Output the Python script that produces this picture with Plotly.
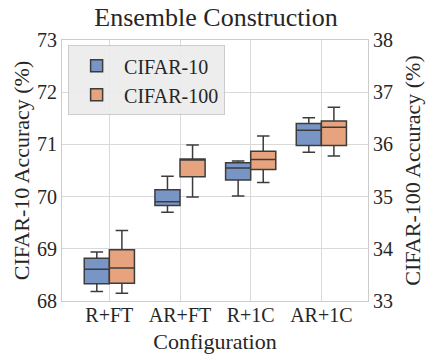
import plotly.graph_objects as go

# configurations on the x axis
configs = ["R+FT", "AR+FT", "R+1C", "AR+1C"]

# CIFAR-10 box statistics (left axis)
c10_low = [68.18, 69.70, 70.01, 70.85]
c10_q1 = [68.33, 69.83, 70.32, 70.98]
c10_med = [68.61, 69.90, 70.55, 71.27]
c10_q3 = [68.82, 70.13, 70.65, 71.40]
c10_high = [68.94, 70.39, 70.68, 71.51]

# CIFAR-100 box statistics (right axis)
c100_low = [33.15, 34.99, 35.27, 35.78]
c100_q1 = [33.34, 35.38, 35.52, 35.98]
c100_med = [33.63, 35.70, 35.71, 36.33]
c100_q3 = [33.98, 35.72, 35.87, 36.45]
c100_high = [34.35, 35.99, 36.16, 36.71]

blue = "rgb(121,149,198)"
orange = "rgb(230,163,125)"
edge = "rgb(60,60,60)"
serif = "Liberation Serif, Times New Roman, serif"

fig = go.Figure()

fig.add_trace(go.Box(
    name="CIFAR-10", x=configs,
    lowerfence=c10_low, q1=c10_q1, median=c10_med, q3=c10_q3, upperfence=c10_high,
    fillcolor=blue, line=dict(color=edge, width=1.5),
    whiskerwidth=0.5, offsetgroup="c10", alignmentgroup="all",
    yaxis="y", boxpoints=False,
))
fig.add_trace(go.Box(
    name="CIFAR-100", x=configs,
    lowerfence=c100_low, q1=c100_q1, median=c100_med, q3=c100_q3, upperfence=c100_high,
    fillcolor=orange, line=dict(color=edge, width=1.5),
    whiskerwidth=0.5, offsetgroup="c100", alignmentgroup="all",
    yaxis="y2", boxpoints=False,
))

fig.update_layout(
    width=432, height=360,
    margin=dict(l=62, r=64, t=40, b=59),
    paper_bgcolor="white", plot_bgcolor="white",
    font=dict(family=serif, size=20, color="#262626"),
    title=dict(text="Ensemble Construction", x=0.5, xanchor="center",
               y=0.978, yanchor="top", font=dict(size=26)),
    boxmode="group", boxgap=0.29, boxgroupgap=0.0,
    showlegend=True,
    legend=dict(x=0.02, y=0.98, xanchor="left", yanchor="top",
                bgcolor="rgba(235,235,235,0.9)", bordercolor="#cccccc", borderwidth=1,
                font=dict(size=20), itemwidth=45),
    xaxis=dict(
        title=dict(text="Configuration", font=dict(size=22), standoff=8),
        range=[-0.67, 3.66], automargin=False,
        showgrid=True, gridcolor="#d9d9d9", gridwidth=1,
        showline=True, linecolor="#cccccc", mirror=True,
        ticks="", tickfont=dict(size=20), ticklabelstandoff=-4,
    ),
    yaxis=dict(
        title=dict(text="CIFAR-10 Accuracy (%)", font=dict(size=22), standoff=1),
        range=[68, 73], dtick=1, automargin=False,
        showgrid=True, gridcolor="#d9d9d9", gridwidth=1,
        showline=True, linecolor="#cccccc", zeroline=False, ticks="",
        tickfont=dict(size=20),
    ),
    yaxis2=dict(
        title=dict(text="CIFAR-100 Accuracy (%)", font=dict(size=22), standoff=12),
        range=[33, 38], dtick=1, overlaying="y", side="right", automargin=False,
        showgrid=False, showline=True, linecolor="#cccccc", zeroline=False, ticks="",
        tickfont=dict(size=20),
    ),
)

# drop the default page margin so the figure sits at the window's corner
fig.write_html("out.html", config={"displayModeBar": False},
               post_script="document.body.style.margin='0';")
